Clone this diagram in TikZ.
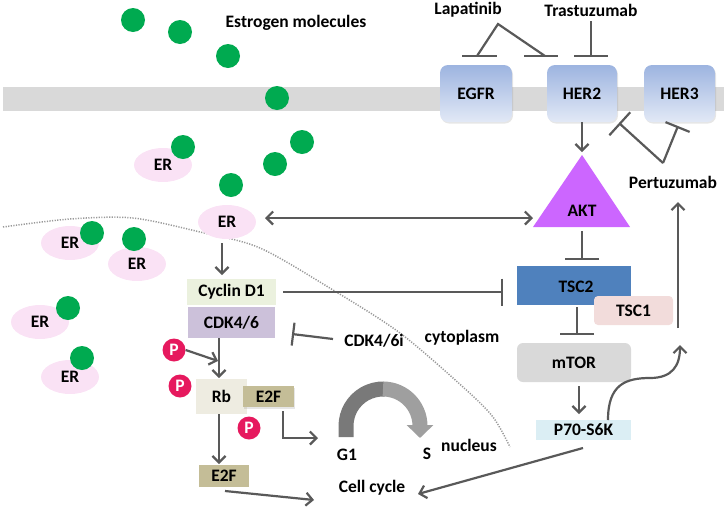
\documentclass[tikz,border=0pt]{standalone}
\usepackage{fontspec}
\setmainfont{Carlito}
\usetikzlibrary{arrows.meta,shapes.geometric,shadows}
\definecolor{memb}{HTML}{D9D9D9}
\definecolor{molg}{RGB}{0,170,80}
\definecolor{erpink}{RGB}{250,226,245}
\definecolor{rectop}{HTML}{9DB4E0}
\definecolor{recbot}{HTML}{E2E9F6}
\definecolor{aktc}{HTML}{CC66FF}
\definecolor{tsctwo}{HTML}{4F81BD}
\definecolor{tscone}{HTML}{F2DCDB}
\definecolor{mtorc}{HTML}{D9D9D9}
\definecolor{p70c}{HTML}{DBEEF4}
\definecolor{cycc}{HTML}{EBF1DE}
\definecolor{cdkc}{HTML}{CCC1DA}
\definecolor{rbc}{HTML}{EEECE1}
\definecolor{etwof}{HTML}{C4BD97}
\definecolor{pc}{HTML}{E6195E}
\definecolor{arrc}{HTML}{595959}
\begin{document}
\begin{tikzpicture}[x=1pt,y=-1pt,
  font=\fontsize{17.5}{19}\selectfont\bfseries,
  every node/.style={inner sep=0pt,text=black},
  mol/.style={circle,fill=molg,minimum size=24pt},
  er/.style={ellipse,fill=erpink,minimum width=58pt,minimum height=34pt},
  rec/.style={rounded corners=8pt,top color=rectop,bottom color=recbot,minimum height=57pt,
              drop shadow={opacity=0.2,shadow xshift=1pt,shadow yshift=-1.5pt}},
  pp/.style={circle,fill=pc,minimum size=23pt,text=white},
  ln/.style={draw=arrc,line width=2.2pt},
  arr/.style={ln,-{Straight Barb[length=6.5pt,width=13pt]}},
  darr/.style={ln,{Straight Barb[length=6.5pt,width=13pt]}-{Straight Barb[length=6.5pt,width=13pt]}},
  inh/.style={ln,-{Bar[width=#1]}}
]
\useasboundingbox (0,0) rectangle (724,507);
% membrane
\fill[memb] (3,87) rectangle (724,111);
% dotted nuclear boundary
\draw[draw=gray!80,line width=1.5pt,dash pattern=on 1.2pt off 1.4pt]
  plot[smooth] coordinates {(3,227) (70,219) (133,218) (200,232) (260,248) (333,290) (400,333) (463,387) (493,417) (510,447)};
% estrogen
\node (estro) at (296,23) {Estrogen molecules};
\node[mol] (m1) at (133,20) {};
\node[mol] (m2) at (180,32) {};
\node[mol] (m3) at (228,56) {};
\node[mol] (m4) at (277,98) {};
\node[mol] (m5) at (302,142) {};
\node[mol] (m6) at (275,164) {};
\node[mol] (m7) at (231,185) {};
% ER
\node[er] (er1) at (163,165) {ER};
\node[er] (er2) at (227,222) {ER};
\node[er] (er3) at (70,243) {ER};
\node[er] (er4) at (137,264) {ER};
\node[er] (er5) at (40,322) {ER};
\node[er] (er6) at (70,377) {ER};
\node[mol] (d1) at (183,147) {};
\node[mol] (d3) at (92,233) {};
\node[mol] (d4) at (134,239) {};
\node[mol] (d5) at (68,308) {};
\node[mol] (d6) at (82,358) {};
% receptors
\node[rec,minimum width=72pt] (egfr) at (476,93.5) {EGFR};
\node[rec,minimum width=70pt] (her2) at (582,93.5) {HER2};
\node[rec,minimum width=71pt] (her3) at (679.5,93.5) {HER3};
% drugs
\node (lap) at (468,10) {Lapatinib};
\node (tras) at (591,10) {Trastuzumab};
\node (pert) at (673,182) {Pertuzumab};
\coordinate (lapA) at (498,24);
\coordinate (lapL) at (477,56);
\coordinate (lapR) at (545,56);
\draw[ln] (lapL) -- (lapA) -- (lapR);
\draw[ln] (462,56) -- (497,56);
\draw[ln] (524,56) -- (558,56);
\coordinate (trasE) at (591,56);
\draw[ln] (591,21) -- (trasE);
\draw[ln] (574,56) -- (608,56);
\coordinate (pertA) at (663,163);
\coordinate (pertL) at (619,123);
\coordinate (pertR) at (678,126);
\draw[inh=31pt] (pertA) -- (pertL);
\draw[inh=26pt] (pertA) -- (pertR);
% AKT
\fill[aktc] (582,155) -- (630,227) -- (533,227) -- cycle;
\node (akt) at (582,211) {AKT};
\coordinate (aktTop) at (582,152);
\draw[arr] (her2.south) -- (aktTop);
\coordinate (aktL) at (533,218);
\coordinate (er2R) at (265,218);
\draw[darr] (er2R) -- (aktL);
% TSC, mTOR, P70
\node[fill=tsctwo,minimum width=114pt,minimum height=39pt] (tsc2) at (574,285.5) {};
\node at (576,287) {TSC2};
\node[fill=tscone,rounded corners=4pt,minimum width=79pt,minimum height=29pt] (tsc1) at (633.5,310.5) {TSC1};
\node[fill=mtorc,rounded corners=6pt,minimum width=114pt,minimum height=39pt] (mtor) at (574,362.5) {mTOR};
\node[fill=p70c,minimum width=95pt,minimum height=20pt] (p70) at (583.5,430) {P70-S6K};
\coordinate (aktB) at (582,231);
\coordinate (tscBar) at (582,260);
\draw[inh=34pt] (aktB) -- (tscBar);
\coordinate (tscB) at (577,307);
\coordinate (mtorBar) at (577,335);
\draw[inh=34pt] (tscB) -- (mtorBar);
\coordinate (mtorB) at (579,386);
\coordinate (p70T) at (579,414);
\draw[arr] (mtorB) -- (p70T);
\coordinate (p70Up) at (608,420);
\coordinate (curveEnd) at (680,345);
\draw[arr] (p70Up) .. controls (608,385) and (625,378) .. (650,378) .. controls (672,378) and (680,366) .. (curveEnd);
\coordinate (rightLow) at (678,328);
\coordinate (rightTop) at (678,202);
\draw[arr] (rightLow) -- (rightTop);
% cell cycle side
\node[fill=cycc,minimum width=89pt,minimum height=26pt] (cyc) at (231.5,292) {Cyclin D1};
\node[fill=cdkc,minimum width=87pt,minimum height=31pt] (cdk) at (231.5,322.5) {CDK4/6};
\coordinate (er2B) at (222,243);
\coordinate (cycT) at (222,275);
\draw[arr] (er2B) -- (cycT);
\coordinate (cycR) at (283,292);
\coordinate (tscBarL) at (503,292);
\draw[inh=27pt] (cycR) -- (tscBarL);
\node (cdki) at (374,341) {CDK4/6i};
\coordinate (cdkiL) at (333,339);
\coordinate (cdkBar) at (292,334);
\draw[inh=23pt] (cdkiL) -- (cdkBar);
\node[fill=rbc,minimum width=51pt,minimum height=35pt] (rb) at (221.5,396.5) {Rb};
\node[fill=etwof,minimum width=51pt,minimum height=21pt,drop shadow={opacity=0.2,shadow xshift=1pt,shadow yshift=-1.5pt}] (e2fa) at (268.5,396.5) {E2F};
\node[fill=etwof,minimum width=50pt,minimum height=22pt] (e2fb) at (224,476) {E2F};
\node[pp] (p1) at (174,350) {P};
\node[pp] (p2) at (180,386) {P};
\node[pp] (p3) at (249,428) {P};
\coordinate (cdkB) at (219,338);
\coordinate (rbT) at (219,378);
\draw[arr] (cdkB) -- (rbT);
\coordinate (p1a) at (218,361);
\draw[arr] (p1.east) -- (p1a);
\coordinate (rbB) at (219,414);
\coordinate (e2fbT) at (219,464);
\draw[arr] (rbB) -- (e2fbT);
\coordinate (g1in) at (318,438);
\draw[arr] (283,411) -- (283,438) -- (g1in);
\node (g1) at (347,455) {G1};
\node (s) at (427,454) {S};
\node (nuc) at (469,445) {nucleus};
\node (cyto) at (462,338) {cytoplasm};
\node (cc) at (372,488) {Cell cycle};
\coordinate (ccL) at (314,500);
\coordinate (ccR) at (418,494);
\draw[arr] (225,491) -- (ccL);
\draw[arr] (583,448) -- (ccR);
% G1 -> S arc
\draw[draw=gray!95!black,line width=15pt] (346,437) -- (346,426) arc[start angle=180,end angle=272,radius=37];
\draw[draw=gray!75,line width=15pt,-{Triangle[length=13pt,width=26pt]}] (383,389) arc[start angle=270,end angle=360,radius=37] -- ++(0,12);
\end{tikzpicture}
\end{document}
